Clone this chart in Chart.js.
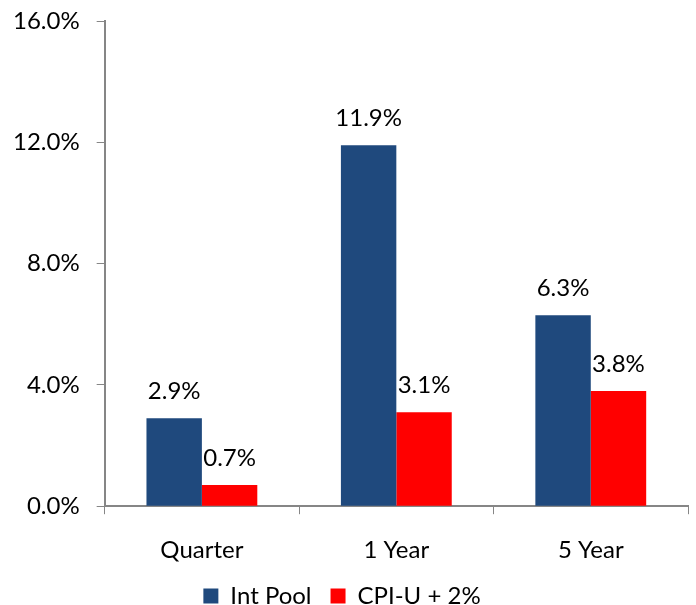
<!DOCTYPE html>
<html>
<head>
<meta charset="utf-8">
<script src="https://cdn.jsdelivr.net/npm/chart.js@4"></script>
<style>
  html, body { margin: 0; padding: 0; background: #fff; overflow: hidden; }
  #wrap { width: 696px; height: 618px; }
</style>
</head>
<body>
<div id="wrap"><canvas id="returnsChart"></canvas></div>
<script>
const categories = ['Quarter', '1 Year', '5 Year'];
const intPool = [2.9, 11.9, 6.3];
const cpiPlus2 = [0.7, 3.1, 3.8];
const seriesNames = ['Int Pool', 'CPI-U + 2%'];
const yTicks = [0, 4, 8, 12, 16];

const fontFamily = 'Lato, "Open Sans", sans-serif';
const axisGray = '#868686';

// value labels above each bar
const barLabels = {
    id: 'barLabels',
    afterDatasetsDraw(chart) {
        const c = chart.ctx;
        c.save();
        c.font = '24px ' + fontFamily;
        c.fillStyle = '#000';
        c.textAlign = 'center';
        c.textBaseline = 'middle';
        chart.data.datasets.forEach((ds, i) => {
            chart.getDatasetMeta(i).data.forEach((bar, j) => {
                c.fillText(ds.data[j].toFixed(1) + '%', bar.x, bar.y - 27);
            });
        });
        c.restore();
    }
};

const ctx = document.getElementById('returnsChart').getContext('2d');
const returnsChart = new Chart(ctx, {
    type: 'bar',
    data: {
        labels: categories,
        datasets: [{
            label: seriesNames[0],
            data: intPool,
            backgroundColor: '#1F497D',
            categoryPercentage: 0.57,
            barPercentage: 1.0
        }, {
            label: seriesNames[1],
            data: cpiPlus2,
            backgroundColor: '#FF0000',
            categoryPercentage: 0.57,
            barPercentage: 1.0
        }]
    },
    options: {
        responsive: true,
        maintainAspectRatio: false,
        animation: false,
        layout: { padding: { left: -4, right: 8, top: 21, bottom: 0 } },
        plugins: {
            tooltip: { enabled: false },
            legend: {
                position: 'bottom',
                labels: {
                    font: { family: fontFamily, size: 24 },
                    color: '#000',
                    boxWidth: 15,
                    boxHeight: 15,
                    padding: 19
                }
            }
        },
        scales: {
            x: {
                afterFit(scale) {
                    scale.height -= 22; // pull the legend up closer to the labels
                },
                grid: {
                    display: true,
                    offset: true,
                    drawOnChartArea: false,
                    tickLength: 8,
                    color: axisGray
                },
                border: { color: axisGray, width: 2 },
                ticks: {
                    font: { family: fontFamily, size: 24 },
                    color: '#000',
                    padding: 22
                }
            },
            y: {
                min: 0,
                max: 16,
                afterBuildTicks(axis) {
                    axis.ticks = yTicks.map(v => ({ value: v }));
                },
                afterFit(scale) {
                    scale.paddingTop = 0;
                },
                grid: {
                    drawOnChartArea: false,
                    tickLength: 8,
                    color: axisGray
                },
                border: { color: axisGray, width: 2 },
                ticks: {
                    font: { family: fontFamily, size: 24 },
                    color: '#000',
                    padding: 17,
                    callback: v => v.toFixed(1) + '%'
                }
            }
        }
    },
    plugins: [barLabels]
});
</script>
</body>
</html>
